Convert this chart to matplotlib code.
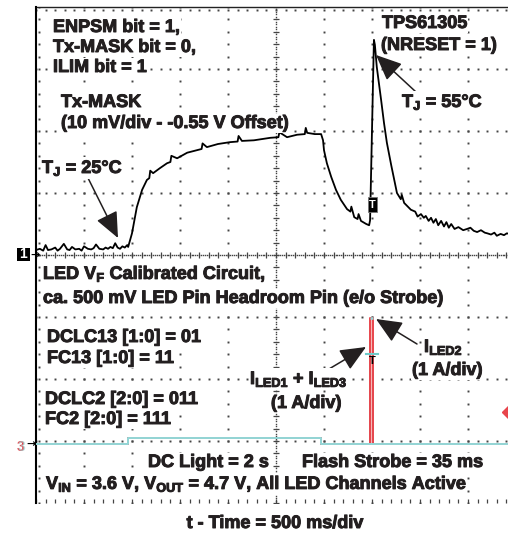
import numpy as np
import matplotlib
matplotlib.use("Agg")
import matplotlib.pyplot as plt
import matplotlib.patheffects as pe
from matplotlib.patches import Rectangle

plt.rcParams['font.family'] = ['Liberation Sans', 'DejaVu Sans']
plt.rcParams['font.weight'] = 'bold'
plt.rcParams['mathtext.fontset'] = 'custom'
plt.rcParams['mathtext.rm'] = 'Liberation Sans:bold'
plt.rcParams['mathtext.it'] = 'Liberation Sans:bold'
plt.rcParams['mathtext.bf'] = 'Liberation Sans:bold'

# ---- Channel 1: Tx-MASK (junction temperature monitor), in screen divisions ----
ch1_t = [0.00, 0.08, 0.15, 0.20, 0.25, 0.32, 0.40, 0.45, 0.50, 0.58, 0.65, 0.70,
         0.75, 0.82, 0.90, 0.95, 1.00, 1.08, 1.15, 1.20, 1.25, 1.32, 1.40, 1.45,
         1.50, 1.55, 1.60, 1.65, 1.70, 1.75, 1.80, 1.85, 1.90,
         1.92, 2.00, 2.10, 2.21, 2.31, 2.36, 2.38, 2.44, 2.58, 2.73, 2.80, 2.82,
         2.94, 3.15, 3.35, 3.45, 3.47, 3.56, 3.79, 4.04, 4.20, 4.22, 4.29, 4.54,
         4.88, 5.05, 5.07, 5.23, 5.44, 5.60, 5.62, 5.65, 5.81, 5.94,
         5.98, 6.00, 6.06, 6.15, 6.25, 6.35, 6.48, 6.55, 6.57, 6.63, 6.70, 6.72,
         6.77, 6.88, 6.94, 6.96,
         7.00, 7.02, 7.04, 7.06, 7.10, 7.15, 7.19, 7.25, 7.31, 7.40, 7.52, 7.60,
         7.62, 7.67, 7.81,
         7.90, 7.95, 8.02, 8.08, 8.12, 8.18, 8.23, 8.28, 8.33, 8.38, 8.44, 8.50,
         8.55, 8.60, 8.65, 8.72, 8.80, 8.90, 8.98, 9.05, 9.12, 9.19, 9.27, 9.35,
         9.40, 9.48, 9.55, 9.60, 9.68, 9.75, 9.81, 9.90, 10.00]
ch1_v = [0.08, 0.10, 0.07, 0.16, 0.08, 0.09, 0.12, 0.07, 0.10, 0.18, 0.09, 0.08,
         0.13, 0.09, 0.10, 0.07, 0.14, 0.10, 0.09, 0.11, 0.17, 0.10, 0.09, 0.12,
         0.10, 0.13, 0.11, 0.19, 0.12, 0.10, 0.14, 0.12, 0.16,
         0.13, 0.35, 0.77, 1.05, 1.21, 1.24, 1.36, 1.32, 1.40, 1.48, 1.50, 1.60,
         1.56, 1.65, 1.69, 1.71, 1.80, 1.74, 1.79, 1.82, 1.83, 1.92, 1.84, 1.85,
         1.89, 1.90, 1.98, 1.90, 1.94, 1.95, 2.05, 1.97, 1.95, 1.95,
         1.85, 1.69, 1.48, 1.26, 1.05, 0.89, 0.74, 0.70, 0.78, 0.61, 0.58, 0.66,
         0.55, 0.50, 0.48, 0.56,
         2.02, 2.82, 3.47, 3.39, 3.03, 2.74, 2.50, 2.13, 1.81, 1.45, 1.00, 0.90,
         0.97, 0.84, 0.73,
         0.70, 0.62, 0.66, 0.60, 0.63, 0.55, 0.60, 0.52, 0.58, 0.48, 0.55, 0.46,
         0.53, 0.44, 0.50, 0.42, 0.45, 0.40, 0.42, 0.44, 0.39, 0.37, 0.40, 0.36,
         0.35, 0.33, 0.36, 0.31, 0.34, 0.32, 0.35, 0.33, 0.31]

# ---- LED currents (1 A/div), in screen divisions ----
led_t = [0.00, 1.92, 1.92, 5.94, 5.94, 6.96, 6.96, 7.03, 7.03, 10.00]
iled13_v = [-3.05, -3.05, -2.95, -2.95, -3.05, -3.05, -1.60, -1.60, -3.05, -3.05]
iled2_v = [-3.05, -3.05, -2.95, -2.95, -3.05, -3.05, -1.02, -1.02, -3.05, -3.05]
led_zero = -3.05

W, H = 508, 534
fig = plt.figure(figsize=(W / 100, H / 100), dpi=100)
fig.patch.set_facecolor('white')
ax = fig.add_axes([36 / W, (H - 503) / H, 480 / W, 496 / H])
ax.set_xlim(0, 10)
ax.set_ylim(-4, 4)
ax.axis('off')

gc = '#444444'
minor = np.round(np.arange(0, 10.001, 0.2), 3)
minor_y = np.round(np.arange(-4, 4.001, 0.2), 3)
dot = dict(ls='none', marker='s', ms=1.4, color=gc, mew=0, zorder=1)

# dotted graticule
for gx in range(1, 10):
    if gx == 5:
        continue
    ax.plot(np.full_like(minor_y, gx), minor_y, **dot)
for gy in range(-3, 4):
    if gy == 0:
        continue
    ax.plot(minor, np.full_like(minor, gy), **dot)

# centre axes with fine dots and minor ticks
fine = np.arange(0, 10.001, 0.04)
fine_y = np.arange(-4, 4.001, 0.04)
ax.plot(fine, np.zeros_like(fine), ls='none', marker='s', ms=1.0, color=gc, mew=0, zorder=1)
ax.plot(minor, np.zeros_like(minor), ls='none', marker='|', ms=5, color=gc, mew=0.9, zorder=1)
ax.plot(np.full_like(fine_y, 5), fine_y, ls='none', marker='s', ms=1.0, color=gc, mew=0, zorder=1)
ax.plot(np.full_like(minor_y, 5), minor_y, ls='none', marker='_', ms=5, color=gc, mew=0.9, zorder=1)

# borders
ax.plot([0, 10], [4, 4], color='#222222', lw=1.0, zorder=2, clip_on=False)
ax.plot(minor, np.full_like(minor, 3.95), **dot)
ax.plot([0, 0], [-4, 4], color='black', lw=1.5, zorder=2, clip_on=False)
ax.plot(np.full_like(minor_y, 0.06), minor_y, **dot)
ax.plot(minor, np.full_like(minor, -3.97), ls='none', marker='|', ms=3.5, color=gc, mew=0.9,
        zorder=1, clip_on=False)

# traces
ax.plot(ch1_t, ch1_v, color='black', lw=1.3, zorder=5, solid_joinstyle='round')

t_arr = np.array(led_t)
i2 = np.array(iled2_v)
i13 = np.array(iled13_v)
in_pulse = i2 > -2.5
ax.fill_between(t_arr, i2, led_zero, where=in_pulse, color='#f6b9b9', lw=0, zorder=2)
ax.plot(t_arr, i13, color='#92d8d8', lw=1.3, zorder=3)
ax.plot(t_arr, i2, color='#e8454c', lw=1.4, zorder=4)
# ILED1+ILED3 baseline drawn over ILED2 outside the flash pulse
ax.plot(t_arr[~in_pulse], i13[~in_pulse], color='#92d8d8', lw=1.4, zorder=4.5)
ax.plot(t_arr[in_pulse], i2[in_pulse], color='#92d8d8', lw=1.8, zorder=4.6,
        solid_capstyle='butt')


def fx(x):
    return x / W


def fy(y):
    return 1 - y / H


# channel markers and trigger flags
fig.patches.append(Rectangle((fx(17), fy(261)), 13 / W, 13 / H, transform=fig.transFigure,
                             facecolor='black', edgecolor='none'))
fig.text(fx(23.5), fy(254.5), '1', color='white', fontsize=10, fontweight='bold',
         ha='center', va='center')
fig.text(fx(30), fy(255), '→', color='black', fontsize=8, ha='left', va='center',
         family=['DejaVu Sans'], fontweight='bold')
fig.text(fx(17), fy(451), '3', color='#e8454c', fontsize=10, fontweight='bold',
         ha='left', va='baseline')
fig.text(fx(18), fy(451), '3', color='#92d8d8', fontsize=10, fontweight='bold',
         ha='left', va='baseline', alpha=0.6)
fig.text(fx(26), fy(444), '→', color='black', fontsize=8, ha='left', va='center',
         family=['DejaVu Sans'], fontweight='bold')
fig.patches.append(Rectangle((fx(368), fy(212)), 9 / W, 15 / H, transform=fig.transFigure,
                             facecolor='black', edgecolor='#777777', lw=0.6, zorder=6))
fig.text(fx(372.5), fy(205), 'T', color='white', fontsize=8, fontweight='bold',
         ha='center', va='center', zorder=7)
fig.text(fx(372.5), fy(361), 'T', color='black', fontsize=8, fontweight='bold',
         ha='center', va='center', zorder=7)
fig.lines.append(plt.Line2D([fx(366), fx(378)], [fy(354), fy(354)], transform=fig.transFigure,
                            color='#6fcaca', lw=1.5))
fig.lines.append(plt.Line2D([fx(509)], [fy(412)], transform=fig.transFigure, marker='D',
                            ms=7, color='#e8454c', ls='none'))

ink = '#231f20'
heavy = [pe.withStroke(linewidth=0.7, foreground=ink)]
txt = dict(fontsize=13, fontweight='bold', color=ink, va='baseline', ha='left',
           path_effects=heavy)
bb = dict(facecolor='white', edgecolor='none', pad=0.5)
labels = [
    (53, 32, 'ENPSM bit = 1,'),
    (53, 52, 'Tx-MASK bit = 0,'),
    (53, 72, 'ILIM bit = 1'),
    (61, 107, 'Tx-MASK'),
    (61, 128, '(10 mV/div - -0.55 V Offset)'),
    (42, 173, r'T$_\mathregular{J}$ = 25°C'),
    (382, 28, 'TPS61305'),
    (381, 50, '(NRESET = 1)'),
    (402, 107, r'T$_\mathregular{J}$ = 55°C'),
    (43, 279, r'LED V$_\mathregular{F}$ Calibrated Circuit,'),
    (43, 303, 'ca. 500 mV LED Pin Headroom Pin (e/o Strobe)'),
    (47, 342, 'DCLC13 [1:0] = 01'),
    (47, 363, 'FC13 [1:0] = 11'),
    (45, 404, 'DCLC2 [2:0] = 011'),
    (45, 424, 'FC2 [2:0] = 111'),
    (148, 467, 'DC Light = 2 s'),
    (302, 467, 'Flash Strobe = 35 ms'),
    (46, 489, r'V$_\mathregular{IN}$ = 3.6 V, V$_\mathregular{OUT}$ = 4.7 V, All LED Channels Active'),
    (250, 384, r'I$_\mathregular{LED1}$ + I$_\mathregular{LED3}$'),
    (424, 352, r'I$_\mathregular{LED2}$'),
    (412, 375, '(1 A/div)'),
]
for x, y, s in labels:
    fig.text(fx(x), fy(y), s, bbox=bb, zorder=8, **txt)
fig.text(fx(306), fy(408), '(1 A/div)', bbox=bb, zorder=8,
         **{**txt, 'ha': 'center'})
fig.text(fx(275), fy(528), 't - Time = 500 ms/div', **{**txt, 'ha': 'center'})

arrows = [((88, 178), (118, 238)), ((416, 92), (376, 55)),
          ((417, 344), (376, 319)), ((329, 369), (366, 347))]
for (x0, y0), (x1, y1) in arrows:
    ax.annotate('', xy=(x1, H - y1), xycoords='figure pixels',
                xytext=(x0, H - y0), textcoords='figure pixels',
                arrowprops=dict(arrowstyle='-|>,head_length=0.8,head_width=0.35',
                                mutation_scale=20, lw=1.1, color=ink,
                                shrinkA=0, shrinkB=0), zorder=9)

fig.savefig('out.png', dpi=100, facecolor='white')
